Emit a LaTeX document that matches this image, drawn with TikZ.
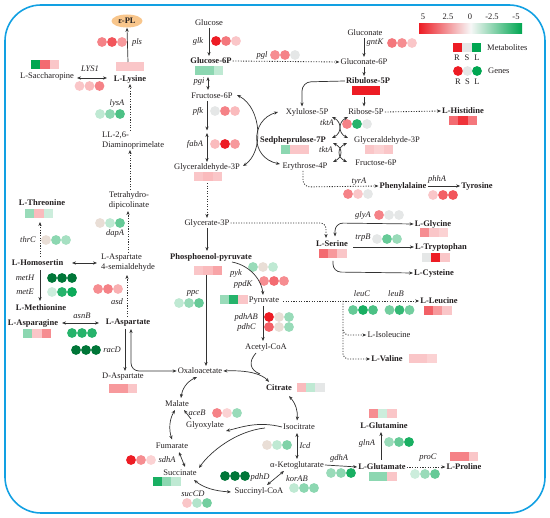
\documentclass[tikz,border=0pt]{standalone}
\usepackage{fontspec}
\setmainfont{Liberation Serif}
\usetikzlibrary{arrows.meta,shapes.geometric}
\definecolor{Rd}{RGB}{237,28,36}
\definecolor{Gn}{RGB}{0,166,81}
\definecolor{DG}{RGB}{0,118,56}
\definecolor{Zc}{RGB}{229,231,231}
\definecolor{Zb}{RGB}{233,222,214}
\definecolor{Bl}{RGB}{18,160,226}
\definecolor{Ln}{RGB}{50,50,50}
\definecolor{Tx}{RGB}{35,31,32}
\definecolor{Or}{RGB}{248,198,140}
\newcommand\hmap[5]{%
  \fill[fill=#3] ({#1-14},{#2-4.5}) rectangle ++(9.33,9);
  \fill[fill=#4] ({#1-4.67},{#2-4.5}) rectangle ++(9.33,9);
  \fill[fill=#5] ({#1+4.67},{#2-4.5}) rectangle ++(9.33,9);}
\newcommand\gcirc[5]{%
  \fill[fill=#3] ({#1-10},#2) circle (4.9pt);
  \fill[fill=#4] (#1,#2) circle (4.9pt);
  \fill[fill=#5] ({#1+10},#2) circle (4.9pt);}
\begin{document}
\begin{tikzpicture}[x=1pt,y=-1pt,
  every node/.style={font=\fontsize{8.5}{10}\selectfont, text=Tx, inner sep=1pt},
  bm/.style={font=\fontsize{8.5}{10}\selectfont\bfseries},
  ez/.style={font=\fontsize{8.5}{10}\selectfont\itshape},
  ln/.style={draw=Ln, line width=0.7pt},
  arr/.style={draw=Ln, line width=0.7pt, -{Stealth[length=4pt,width=3.2pt]}},
  darr/.style={draw=Ln, line width=0.7pt, {Stealth[length=4pt,width=3.2pt]}-{Stealth[length=4pt,width=3.2pt]}},
  dotl/.style={line width=0.85pt, dash pattern=on 1.1pt off 1.5pt},
]
\useasboundingbox (0,0) rectangle (550,518);
% border
\draw[Bl, line width=1.6pt, rounded corners=36pt] (5,5) rectangle (545,513);

% ---------- legend
\shade[left color=Rd, right color=Gn, middle color=white!94!gray] (419,24) rectangle (522,34);
\node (l1) at (423,17) {5};
\node (l2) at (448,17) {2.5};
\node (l3) at (470,17) {0};
\node (l4) at (492,17) {-2.5};
\node (l5) at (516,17) {-5};
\fill[Rd] (452.5,43.5) rectangle ++(9.3,9);
\fill[Zc] (462.2,43.5) rectangle ++(9.3,9);
\fill[Gn] (471.9,43.5) rectangle ++(9.3,9);
\node[anchor=west] (lgm) at (486,48) {Metabolites};
\node (lr1) at (457,58) {R};
\node (ls1) at (467,58) {S};
\node (ll1) at (477,58) {L};
\fill[Rd] (458,71) circle (4.9pt);
\fill[Zc] (467.5,71) circle (4.9pt);
\fill[Gn] (477,71) circle (4.9pt);
\node[anchor=west] (lgg) at (487,71) {Genes};
\node (lr2) at (458,82) {R};
\node (ls2) at (467.5,82) {S};
\node (ll2) at (477,82) {L};

% ---------- metabolite nodes
\node[bm, ellipse, fill=Or, minimum width=31pt, minimum height=13pt, inner sep=0pt] (epl) at (127,21) {ε-PL};
\node[bm] (lys) at (130,79) {L-Lysine};
\node (sacc) at (47,76) {L-Saccharopine};
\node[anchor=west, align=left, inner sep=0pt] (dap) at (102,141) {LL-2,6-\\Diaminoprimelate};
\node[align=center, inner sep=0pt] (thp) at (129,200) {Tetrahydro-\\dipicolinate};
\node[anchor=west, align=left, inner sep=0pt] (asa) at (101,263) {L-Aspartate\\4-semialdehyde};
\node[bm] (thr) at (42,203) {L-Threonine};
\node[bm] (hse) at (37.5,263) {L-Homosertin};
\node[bm] (met) at (41,308) {L-Methionine};
\node[bm] (asn) at (33,323) {L-Asparagine};
\node[bm] (asp) at (128,323) {L-Aspartate};
\node (dasp) at (123,377) {D-Aspartate};

\node (glc) at (209,23) {Glucose};
\node[bm] (g6p) at (211,61) {Glucose-6P};
\node (f6p) at (212,96) {Fructose-6P};
\coordinate (fbp) at (207,130.5);
\node (gap) at (207,167) {Glyceraldehyde-3P};
\node (g3p) at (207,223) {Glycerate-3P};
\node[bm] (pep) at (211,257) {Phosphoenol-pyruvate};
\node (pyr) at (264,301) {Pyruvate};
\node (accoa) at (266,347) {Acetyl-CoA};
\node (oaa) at (200,371) {Oxaloacetate};
\node (mal) at (177,404) {Malate};
\node (fum) at (172,446) {Fumarate};
\node (suc) at (180,473) {Succinate};
\node (succoa) at (259,491) {Succinyl-CoA};
\node (akg) at (297,465) {α-Ketoglutarate};
\node (icit) at (299,427) {Isocitrate};
\node (glx) at (205,425) {Glyoxylate};
\node[bm] (cit) at (279,388) {Citrate};

\node (gln) at (365,33) {Gluconate};
\node (gn6p) at (364,62) {Gluconate-6P};
\node[bm] (ru5p) at (368,81) {Ribulose-5P};
\node (x5p) at (307,112) {Xylulose-5P};
\node (r5p) at (366,112) {Ribose-5P};
\node[bm] (his) at (463,111) {L-Histidine};
\node[bm] (s7p) at (293,140) {Sedpheprulose-7P};
\node (gap2) at (387,140) {Glyceraldehyde-3P};
\node (e4p) at (305,166) {Erythrose-4P};
\node (f6p2) at (376,163) {Fructose-6P};
\node[bm] (phe) at (403,186) {Phenylalaine};
\node[bm] (tyr) at (477,186) {Tyrosine};
\node[bm] (ser) at (332,244) {L-Serine};
\node[bm] (gly) at (433,224) {L-Glycine};
\node[bm] (trp) at (441,247) {L-Tryptophan};
\node[bm] (cys) at (434,273) {L-Cysteine};
\node[bm] (leu) at (439,301) {L-Leucine};
\node (ile) at (389,335) {L-Isoleucine};
\node[bm] (val) at (387,359) {L-Valine};
\node[bm] (glu) at (382,467) {L-Glutamate};
\node[bm] (glnn) at (384,426) {L-Glutamine};
\node[bm] (pro) at (464,467) {L-Proline};

% ---------- enzyme labels
\node[ez] (e-pls) at (137,42) {pls};
\node[ez] (e-lys1) at (90,69) {LYS1};
\node[ez] (e-lysa) at (117,103) {lysA};
\node[ez] (e-glk) at (198,41) {glk};
\node[ez] (e-pgl) at (262,55) {pgl};
\node[ez] (e-gntk) at (375,43) {gntK};
\node[ez] (e-pgi) at (199,82) {pgi};
\node[ez] (e-pfk) at (198,111) {pfk};
\node[ez] (e-faba) at (195,144) {fabA};
\node[ez] (e-tkt1) at (327,123) {tktA};
\node[ez] (e-tkt2) at (326,150) {tktA};
\node[ez] (e-tyra) at (359,182) {tyrA};
\node[ez] (e-phha) at (437,179) {phhA};
\node[ez] (e-dapa) at (115,233) {dapA};
\node[ez] (e-thrc) at (28,240) {thrC};
\node[ez] (e-meth) at (25,278) {metH};
\node[ez] (e-mete) at (25,292) {metE};
\node[ez] (e-asd) at (117,302) {asd};
\node[ez] (e-asnb) at (82,316) {asnB};
\node[ez] (e-racd) at (112,350) {racD};
\node[ez] (e-ppc) at (193,293) {ppc};
\node[ez] (e-pyk) at (236,273) {pyk};
\node[ez] (e-ppdk) at (243,284) {ppdK};
\node[ez, anchor=east] (e-pdhab) at (259,317) {pdhAB};
\node[ez, anchor=east] (e-pdhc) at (257,327) {pdhC};
\node[ez] (e-glya) at (363,215) {glyA};
\node[ez] (e-trpb) at (363,238) {trpB};
\node[ez] (e-leuc) at (362,294) {leuC};
\node[ez] (e-leub) at (396,294) {leuB};
\node[ez] (e-aceb) at (197,413) {aceB};
\node[ez] (e-icd) at (305,446) {Icd};
\node[ez] (e-sdha) at (167,460) {sdhA};
\node[ez] (e-succd) at (193,494) {sucCD};
\node[ez] (e-pdhd) at (260,477) {pdhD};
\node[ez] (e-korab) at (297,479) {korAB};
\node[ez] (e-gdha) at (339,458) {gdhA};
\node[ez] (e-glna) at (367,443) {glnA};
\node[ez] (e-proc) at (428,458) {proC};

% ---------- heatmaps (metabolites)
\hmap{45}{65}{Gn}{Rd!65!white}{Rd!25!white}
\hmap{130}{67}{Rd!25!white}{Rd!25!white}{Rd!25!white}
\hmap{209}{71}{Gn!45!white}{Gn!45!white}{Gn!25!white}
\hmap{366}{91}{Rd}{Rd}{Rd}
\hmap{463}{121}{Rd!65!white}{Rd!90!white}{Rd!60!white}
\hmap{295}{149.5}{Gn!45!white}{Rd!25!white}{Rd!25!white}
\hmap{379}{149.5}{Rd!25!white}{Rd!20!white}{Rd!25!white}
\hmap{208}{177}{Rd!25!white}{Rd!30!white}{Rd!25!white}
\hmap{39}{213.5}{Gn!40!white}{Rd!30!white}{Gn!20!white}
\hmap{434}{232.5}{Rd!50!white}{Rd!25!white}{Rd!20!white}
\hmap{435.5}{257.5}{Zc}{Rd}{Rd!25!white}
\hmap{332.5}{254}{Rd!65!white}{Rd!45!white}{Rd!25!white}
\hmap{208}{270.5}{Rd!25!white}{Rd!30!white}{Rd!40!white}
\hmap{233.5}{300}{Gn!40!white}{Gn!85!white}{Rd!25!white}
\hmap{437.5}{310.5}{Rd!70!white}{Rd!45!white}{Rd!25!white}
\hmap{37}{333.5}{Gn!45!white}{Rd!25!white}{Rd!50!white}
\hmap{422.5}{359}{Rd!25!white}{Rd!25!white}{Rd!20!white}
\hmap{123}{389}{Rd!45!white}{Rd!45!white}{Rd!25!white}
\hmap{310.5}{387.5}{Rd!30!white}{Gn!25!white}{Zc}
\hmap{382.5}{413.5}{Rd!50!white}{Gn!20!white}{Rd!25!white}
\hmap{464}{456.5}{Rd!55!white}{Rd!55!white}{Rd!25!white}
\hmap{382.5}{476.5}{Gn!45!white}{Gn!45!white}{Rd!25!white}
\hmap{166.5}{482}{Gn!90!white}{Gn!45!white}{Gn!25!white}

% ---------- gene circles
\gcirc{112}{42}{Rd!55!white}{Rd!75!white}{Rd!45!white}
\gcirc{89.5}{86}{Rd!25!white}{Rd!30!white}{Rd!55!white}
\gcirc{110}{114}{Gn!25!white}{Gn!45!white}{Gn!70!white}
\gcirc{226}{41}{Rd}{Rd!60!white}{Rd!25!white}
\gcirc{285}{55}{Rd!50!white}{Rd!55!white}{Zc}
\gcirc{402}{43}{Rd!60!white}{Rd!50!white}{Rd!25!white}
\gcirc{225}{111}{Zc}{Rd!55!white}{Rd!30!white}
\gcirc{225}{144}{Rd!30!white}{Rd}{Rd!45!white}
\gcirc{357}{124}{Rd!55!white}{Gn!85!white}{Zc}
\gcirc{358}{194}{Rd!55!white}{Rd!25!white}{Zc}
\gcirc{443}{195}{Rd!25!white}{Rd!70!white}{Rd!75!white}
\gcirc{110}{223}{Zb}{Gn!25!white}{Gn!60!white}
\gcirc{56}{240}{Zb}{Gn!45!white}{Gn!35!white}
\gcirc{389}{215}{Rd!55!white}{Zc}{Zc}
\gcirc{387}{239}{Zc}{Gn!60!white}{Gn!40!white}
\gcirc{263}{267}{Gn!40!white}{Zb}{Gn!25!white}
\gcirc{274}{281}{Rd!50!white}{Rd!65!white}{Rd!50!white}
\gcirc{62}{278}{DG}{DG}{DG}
\gcirc{62}{292}{Gn!20!white}{Gn!85!white}{Gn!95!white}
\gcirc{108}{289}{Rd!50!white}{Rd!55!white}{Rd!35!white}
\gcirc{189}{303}{Gn!25!white}{Gn!40!white}{Gn!60!white}
\gcirc{279}{317}{Rd}{Zb}{Gn!40!white}
\gcirc{279}{327}{Rd!70!white}{Zb}{Gn!40!white}
\gcirc{363}{310}{Gn!60!white}{Gn!90!white}{Gn!70!white}
\gcirc{399.5}{310}{Gn!55!white}{Gn!80!white}{Gn!55!white}
\gcirc{82}{333}{Gn!85!white}{Gn!85!white}{Gn!85!white}
\gcirc{86}{350}{DG}{DG}{DG}
\gcirc{227}{413}{Rd!55!white}{Rd!20!white}{Gn!40!white}
\gcirc{277}{445}{Zb}{Gn!25!white}{Gn!50!white}
\gcirc{141}{460}{Rd}{Rd!50!white}{Rd!20!white}
\gcirc{341}{473}{Gn!40!white}{Gn!45!white}{Gn!90!white}
\gcirc{235}{476}{DG}{DG}{DG}
\gcirc{304}{488}{Gn!25!white}{Gn!45!white}{Gn!45!white}
\gcirc{197}{503}{Rd!25!white}{Gn!30!white}{Gn!55!white}
\gcirc{399}{442}{Gn!40!white}{Gn!60!white}{Gn!90!white}
\gcirc{425}{474}{Gn!20!white}{Gn!40!white}{Gn!60!white}

% ---------- connectors: lysine branch
\draw[arr] (128,62) -- (epl.south);
\draw[darr] (77,78) -- (107,78);
\draw[arr, dotl] (130,131) -- (130,84);
\draw[arr, dotl] (130,190) -- (130,150);
\draw[arr, dotl] (128,253) -- (128,211);
\draw[darr] (72,263) -- (97,263);
\draw[arr, dotl] (40,257) -- (40,222);
\draw[arr] (40,270) -- (40,301);
\draw[darr] (62,323) -- (99,323);
\draw[arr, dotl] (127,317) -- (127,275);
\draw[arr] (125,329) -- (125,371);
\draw[darr, rounded corners=8pt] (131,329) -- (131,371) -- (oaa.west);

% glycolysis
\draw[arr] (209,28) -- (209,56);
\draw[darr] (208,77) -- (208,90);
\draw[arr] (207,101) -- (fbp);
\draw[darr] ([yshift=-2.5pt]fbp) -- (207,162);
\draw[arr, dotl] (207,183) -- (g3p.north);
\draw[arr] (g3p.south) -- (207,251);
\draw[arr, dotl, rounded corners=6pt] (g3p.east) -- (326,223) -- (326,238);
\draw[arr] (206,275) -- (206,366);
\draw[arr] (232,262) .. controls (252,266) and (262,282) .. (263,295);
\draw[arr] (263,306) -- (263,341);

% pentose phosphate
\draw[arr, dotl] (g6p.east) -- (gn6p.west);
\draw[arr] (364,38) -- (364,57);
\draw[arr] (364,67) -- (364,76);
\draw[arr] (364,97) -- (364,106.5);
\draw[arr, rounded corners=9pt] (ru5p.west) -- (302,82) -- (302,106.5);
\draw[arr, dotl] (r5p.east) -- (his.west);
\draw[darr] (332,117) .. controls (342,122) and (342,133) .. (332,138);
\draw[darr] (348,117) .. controls (338,122) and (338,133) .. (348,138);
\draw[darr] (333,143) .. controls (343,148) and (343,157) .. (333,162);
\draw[darr] (347,143) .. controls (337,148) and (337,157) .. (347,162);
\draw[darr] (237,95) .. controls (262,108) and (264,152) .. (243,166);
\draw[darr] (278,112) .. controls (250,120) and (250,158) .. (280,164);
\draw[arr, dotl, rounded corners=7pt] (303,171) -- (303,187) -- (phe.west);
\draw[arr] (phe.east) -- (tyr.west);

% serine branch
\draw[darr, rounded corners=8pt] (335,236.5) -- (335,223) -- (gly.west);
\draw[arr] (353,247) -- (trp.west);
\draw[arr, rounded corners=8pt] (333,261) -- (333,272) -- (cys.west);
\draw[arr, dotl] (283,301) -- (leu.west);
\draw[arr, dotl, rounded corners=5pt] (343,301) -- (343,335) -- (ile.west);
\draw[arr, dotl, rounded corners=5pt] (343,330) -- (343,359) -- (val.west);

% TCA
\draw[darr] (oaa.east) .. controls (248,370) and (262,374) .. (269,382);
\draw[ln] (256,353) .. controls (248,362) and (250,370) .. (260,374);
\draw[darr] (197,377) .. controls (186,382) and (182,390) .. (181,398);
\draw[arr] (191,419) -- (184,410);
\draw[arr] (icit.west) .. controls (258,421) and (242,427) .. (226,431);
\draw[arr] (265,428) .. controls (236,431) and (210,452) .. (199,468);
\draw[darr] (289,396) .. controls (296,404) and (298,412) .. (297,420.5);
\draw[darr] (297,433) -- (297,459);
\draw[darr] (284,471) -- (267,485);
\draw[darr] (194,480) .. controls (204,488) and (215,491) .. (231,492);
\draw[darr] (175,410) .. controls (169,420) and (169,430) .. (172,439.5);
\draw[darr] (179,452) -- (185,467);
\draw[arr] (akg.east) -- (glu.west);
\draw[arr] (381,460) -- (381,432);
\draw[arr, dotl] (glu.east) -- (pro.west);
\end{tikzpicture}
\end{document}
